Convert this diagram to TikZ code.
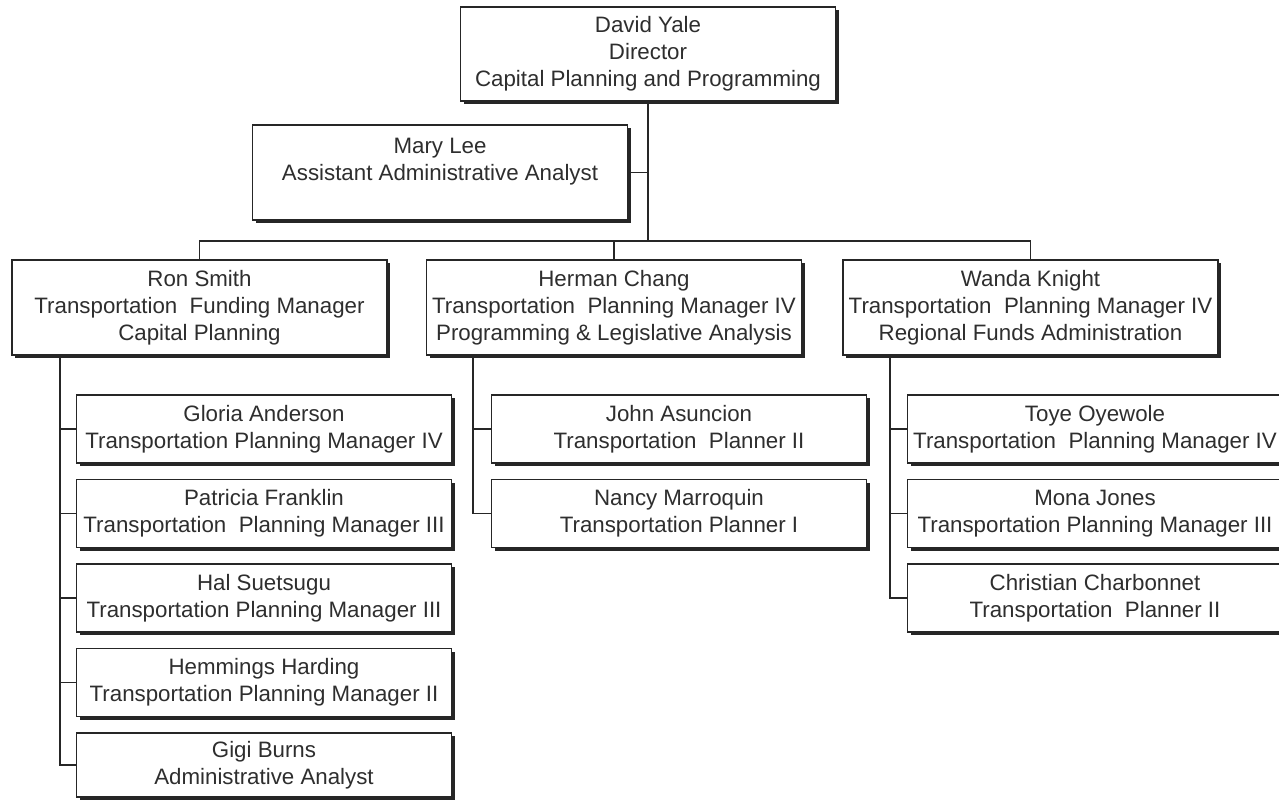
\documentclass[tikz,border=0pt]{standalone}
\usepackage{fontspec}
\setmainfont{Liberation Sans}
\usetikzlibrary{positioning, shadows}

\definecolor{inkgray}{HTML}{2E2E2E}
\definecolor{linegray}{HTML}{262626}

\begin{document}
\begin{tikzpicture}[x=1pt, y=-1pt, node distance=15pt,
    every node/.style={text=inkgray},
    person/.style={draw=linegray, line width=1.5pt, fill=white, align=center, inner sep=0pt,
        font=\fontsize{22.3}{27}\selectfont, minimum width=375pt,
        drop shadow={shadow xshift=3pt, shadow yshift=-3pt, fill=linegray, opacity=1}},
    head/.style={person, minimum height=95pt},
    staff/.style={person, minimum height=68pt},
    link/.style={draw=linegray, line width=1.6pt}]
    \useasboundingbox (0,0) rectangle (1279,802);
    \clip (0,0) rectangle (1279,802);

    % top of the chart
    \node[head, minimum height=94pt] (yale) at (648,54) {David Yale\\Director\\Capital Planning and Programming};
    \node[head] (lee) at (440,172.5) {Mary Lee\\Assistant Administrative Analyst\\~};

    % section managers
    \node[head] (smith)  at (199.5,307.5)  {Ron Smith\\Transportation\ \ Funding Manager\\Capital Planning};
    \node[head] (chang)  at (614,307.5)    {Herman Chang\\Transportation\ \ Planning Manager IV\\Programming \& Legislative Analysis};
    \node[head] (knight) at (1030.5,307.5) {Wanda Knight\\Transportation\ \ Planning Manager IV\\Regional Funds Administration};

    % staff under Ron Smith
    \node[staff] (anderson) at (264,429)      {Gloria Anderson\\Transportation Planning Manager IV};
    \node[staff] (franklin) [below=of anderson] {Patricia Franklin\\Transportation\ \ Planning Manager III};
    \node[staff] (suetsugu) [below=of franklin] {Hal Suetsugu\\Transportation Planning Manager III};
    \node[staff] (harding)  [below=of suetsugu] {Hemmings Harding\\Transportation Planning Manager II};
    \node[staff, minimum height=64pt] (burns) [below=of harding] {Gigi Burns\\Administrative Analyst};

    % staff under Herman Chang
    \node[staff] (asuncion)  at (679,429)        {John Asuncion\\Transportation\ \ Planner II};
    \node[staff] (marroquin) [below=of asuncion] {Nancy Marroquin\\Transportation Planner I};

    % staff under Wanda Knight
    \node[staff] (oyewole)    at (1095,429)       {Toye Oyewole\\Transportation\ \ Planning Manager IV};
    \node[staff] (jones)      [below=of oyewole]  {Mona Jones\\Transportation Planning Manager III};
    \node[staff] (charbonnet) [below=of jones]    {Christian Charbonnet\\Transportation\ \ Planner II};

    \coordinate (bus) at (0,241);
    \coordinate (smithspine)  at (60,0);
    \coordinate (changspine)  at (473,0);
    \coordinate (knightspine) at (890,0);

    % connectors
    \draw[link] (yale.south) -- (yale.south |- bus);
    \draw[link] (lee.east) -- (lee.east -| yale.south);
    \draw[link] (smith.north) -- (smith.north |- bus) -- (knight.north |- bus) -- (knight.north);
    \draw[link] (chang.north) -- (chang.north |- bus);

    \draw[link] (smith.south -| smithspine) -- (burns.west -| smithspine) -- (burns.west);
    \foreach \n in {anderson, franklin, suetsugu, harding}
        \draw[link] (\n.west) -- (\n.west -| smithspine);

    \draw[link] (chang.south -| changspine) -- (marroquin.west -| changspine) -- (marroquin.west);
    \draw[link] (asuncion.west) -- (asuncion.west -| changspine);

    \draw[link] (knight.south -| knightspine) -- (charbonnet.west -| knightspine) -- (charbonnet.west);
    \foreach \n in {oyewole, jones}
        \draw[link] (\n.west) -- (\n.west -| knightspine);
\end{tikzpicture}
\end{document}
